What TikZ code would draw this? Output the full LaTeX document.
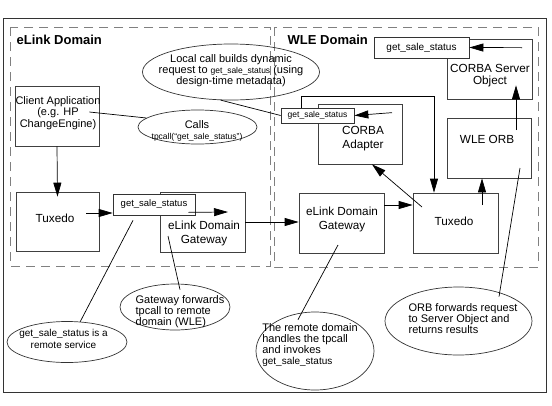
\documentclass[tikz,border=0pt]{standalone}
\usepackage{fontspec}
\setmainfont{Liberation Sans}
\usetikzlibrary{shapes.geometric,arrows.meta}
\newcommand\boxfont{\fontsize{11.75}{14}\selectfont}
\newcommand\notefont{\fontsize{11}{11}\selectfont}
\newcommand\tagfont{\fontsize{8.5}{10}\selectfont}
\newcommand\gss{get\_sale\_status}

\begin{document}
\begin{tikzpicture}[x=1pt,y=-1pt,line width=0.7pt,
  plainbox/.style={draw=black!75,fill=white,inner sep=0pt},
  boxtext/.style={font=\boxfont,align=center,inner sep=0pt},
  tagbox/.style={draw=black!80,fill=white,inner sep=2pt,font=\tagfont},
  callout/.style={ellipse,draw=black!80,inner sep=0pt},
  notetext/.style={font=\notefont,inner sep=0pt},
  domframe/.style={draw=black!50,dash pattern=on 9pt off 6pt},
  domtitle/.style={font=\fontsize{13}{15}\selectfont\bfseries},
  flow/.style={-{Triangle[length=14pt,width=8pt]}}]
\useasboundingbox (0,0) rectangle (552,405);
\draw[black!80,line width=1pt] (3,18) rectangle (546,392);
\draw[domframe] (10,27) rectangle (270,266);
\draw[domframe] (274,27) rectangle (538,267);
\node[domtitle,anchor=west] (elinkttl) at (13,40) {eLink Domain};
\node[domtitle,anchor=west] (wlettl) at (284,40) {WLE Domain};

\node[plainbox,minimum width=84pt,minimum height=60pt] (client) at (57,116) {};
\node[boxtext,font=\fontsize{11}{11.5}\selectfont] (clienttxt) at (58,113) {Client Application\\(e.g. HP\\ChangeEngine)};
\node[plainbox,minimum width=83pt,minimum height=59pt] (tuxA) at (57.5,221.5) {};
\node[boxtext] (tuxAtxt) at (55,218) {Tuxedo};
\node[plainbox,minimum width=85pt,minimum height=60pt] (gwA) at (202.5,222) {};
\node[boxtext] (gwAtxt) at (204,233) {eLink Domain\\Gateway};
\node[tagbox,font=\fontsize{9.5}{11}\selectfont,minimum width=82pt,minimum height=21pt] (getA) at (154,204.5) {\gss};

\node[plainbox,minimum width=85pt,minimum height=60pt] (gwB) at (341.5,223) {};
\node[boxtext] (gwBtxt) at (342,219.5) {eLink Domain\\Gateway};
\node[plainbox,minimum width=85pt,minimum height=60pt] (tuxB) at (455.5,223) {};
\node[boxtext] (tuxBtxt) at (454,221) {Tuxedo};
\node[plainbox,minimum width=84pt,minimum height=60pt] (orb) at (489,148) {};
\node[boxtext] (orbtxt) at (487,139) {WLE ORB};
\node[plainbox,minimum width=85pt,minimum height=60pt] (srv) at (489.5,69) {};
\node[boxtext,font=\fontsize{11.75}{12}\selectfont] (srvtxt) at (490,75.5) {CORBA Server\\Object};
\node[tagbox,font=\fontsize{10}{12}\selectfont,minimum width=95pt,minimum height=21pt] (getS) at (421.5,47.5) {\gss};
\node[plainbox,minimum width=84pt,minimum height=60pt] (adp) at (360,134) {};
\node[boxtext] (adptxt) at (363,139) {CORBA\\Adapter};
\node[tagbox,minimum width=73pt,minimum height=15pt] (getB) at (317.5,115.5) {\gss};

\node[callout,minimum width=119pt,minimum height=34pt] (callsEl) at (197.5,127) {};
\node[notetext,align=center] (callsTxt) at (197,131) {Calls\\{\tagfont tpcall(“\gss”)}};
\node[callout,minimum width=177pt,minimum height=56pt] (localEl) at (231,72) {};
\node[notetext,align=center] (localTxt) at (231,71) {Local call builds dynamic\\request to {\tagfont\gss} (using\\design-time metadata)};
\node[callout,minimum width=120pt,minimum height=41pt] (remoteEl) at (67,342) {};
\node[notetext,align=center,font=\fontsize{10}{12}\selectfont] (remoteTxt) at (63.5,339) {\gss{} is a\\remote service};
\node[callout,minimum width=110pt,minimum height=46pt] (gwfEl) at (175,307) {};
\node[notetext,align=left] (gwfTxt) at (180,312) {Gateway forwards\\ tpcall to remote\\domain (WLE)};
\node[callout,minimum width=118pt,minimum height=78pt] (rdEl) at (315,351) {};
\node[notetext,align=left] (rdTxt) at (310,345.5) {The remote domain\\handles the tpcall\\and invokes\\{\fontsize{10}{11}\selectfont\gss}};
\node[callout,minimum width=147pt,minimum height=68pt] (orbEl) at (458.5,321) {};
\node[notetext,align=left] (orbTxt) at (463,318.5) {ORB forwards request\\to Server Object and\\returns results};

\draw[flow] (client.south) -- ([yshift=-5pt]tuxA.north);
\draw[flow] ([xshift=-13pt,yshift=8.5pt]tuxA.east) -- ([yshift=-8.5pt]getA.west);
\draw[flow] ([xshift=-7pt,yshift=3pt]getA.south east) -- ([xshift=25.5pt,yshift=10pt]gwA.center);
\draw[flow] (gwA.east) -- (gwA.east -| gwB.west);
\draw[flow] ([yshift=18pt]gwB.east) -- ([yshift=18pt]tuxB.west);
\draw[flow] ([xshift=-33.5pt,yshift=16pt]tuxB.center) -- ([xshift=12pt]adp.south);
\draw[flow] ([xshift=26.5pt,yshift=18pt]tuxB.center) -- ([xshift=-7pt]orb.south);
\draw[flow] ([xshift=27pt,yshift=18pt]orb.center) -- ([xshift=26.5pt,yshift=14pt]srv.south);
\draw[flow] ([xshift=32.5pt,yshift=-9pt]srv.north) -- (getS.east);
\draw[flow] ([xshift=32pt,yshift=-9pt]adp.north) -- (getB.east);
\draw[flow] ([xshift=-16.5pt]getB.north) -- ++(0,-11) -| (tuxB.north -| 434,0);

\draw (callsEl.170) -- ([xshift=-10pt,yshift=4pt]client.east);
\draw (localEl.250) -- (getB.west);
\draw (remoteEl.57) -- ([xshift=-21pt,yshift=-5pt]getA.south);
\draw ([xshift=5pt,yshift=-6pt]gwfEl.north) -- ([xshift=-34.5pt,yshift=-14pt]gwA.center);
\draw ([xshift=-17pt,yshift=-8pt]rdEl.north) -- ([xshift=-3.5pt,yshift=-22pt]gwB.center);
\draw ([xshift=40.5pt,yshift=-10pt]orbEl.north) -- ([xshift=31pt,yshift=-20pt]orb.center);
\end{tikzpicture}
\end{document}
